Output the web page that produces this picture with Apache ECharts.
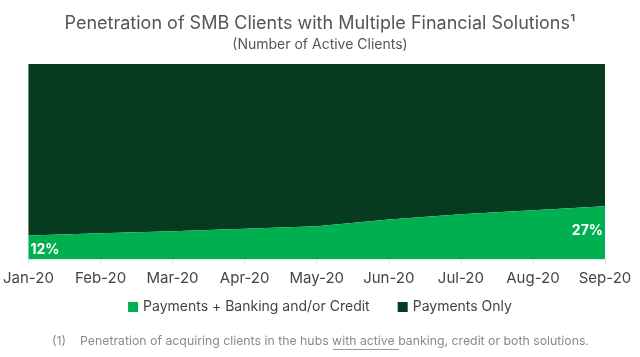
<!DOCTYPE html>
<html>
<head>
<meta charset="utf-8">
<script src="https://cdn.jsdelivr.net/npm/echarts@6/dist/echarts.min.js"></script>
<style>
html,body{margin:0;padding:0;background:#fff;}
#c{width:640px;height:357px;}
</style>
</head>
<body>
<div id="c"></div>
<script>
const categories = ['Jan-20','Feb-20','Mar-20','Apr-20','May-20','Jun-20','Jul-20','Aug-20','Sep-20'];
const multiSolution = [12, 13.2, 14.2, 15.5, 16.8, 20.3, 23, 25, 27];
const paymentsOnly = [88, 86.8, 85.8, 84.5, 83.2, 79.7, 77, 75, 73];
const seriesNames = ['Payments + Banking and/or Credit', 'Payments Only'];

const GREEN = '#00B050';
const DARK = '#063B1F';
const FONT = 'Inter, "Noto Sans", sans-serif';
const FN = '12.3px ' + FONT;

const chart = echarts.init(document.getElementById('c'), null, {renderer:'canvas'});

const greenData = multiSolution.map((v, i) => {
  if (i === 0) {
    return {value: v, label: {show: true, position: 'bottom', align: 'left', offset: [2, 2]}};
  }
  if (i === multiSolution.length - 1) {
    return {value: v, label: {show: true, position: 'bottom', align: 'right', offset: [-2, 12]}};
  }
  return v;
});

chart.setOption({
  animation: false,
  textStyle: {fontFamily: FONT},
  title: {
    text: 'Penetration of SMB Clients with Multiple Financial Solutions\u00B9',
    subtext: '(Number of Active Clients)',
    left: 'center',
    top: 10,
    itemGap: 5,
    textStyle: {fontFamily: FONT, fontSize: 18, fontWeight: 'normal', color: '#555'},
    subtextStyle: {fontFamily: FONT, fontSize: 14, color: '#555'}
  },
  legend: {
    data: seriesNames.map(n => ({name: n, icon: 'rect'})),
    bottom: 38,
    left: 'center',
    itemWidth: 10,
    itemHeight: 10,
    itemGap: 28,
    textStyle: {fontFamily: FONT, fontSize: 14, color: '#444'}
  },
  grid: {left: 28, right: 35, top: 64, bottom: 98},
  xAxis: {
    type: 'category',
    data: categories,
    boundaryGap: false,
    axisLine: {show: true, lineStyle: {color: '#e6e6e6'}},
    axisTick: {show: true, alignWithLabel: true, length: 4, lineStyle: {color: '#ddd'}},
    axisLabel: {fontFamily: FONT, fontSize: 15, color: '#444', margin: 12}
  },
  yAxis: {type: 'value', min: 0, max: 100, show: false},
  series: [
    {
      name: seriesNames[0],
      type: 'line',
      stack: 'total',
      data: greenData,
      symbol: 'circle',
      symbolSize: 0.1,
      showSymbol: true,
      itemStyle: {color: GREEN},
      lineStyle: {width: 0},
      areaStyle: {color: GREEN, opacity: 1},
      label: {show: false, formatter: '{c}%', color: '#fff', fontSize: 14, fontWeight: 'bold', fontFamily: FONT},
      z: 3
    },
    {
      name: seriesNames[1],
      type: 'line',
      stack: 'total',
      data: paymentsOnly,
      symbol: 'none',
      itemStyle: {color: DARK},
      lineStyle: {width: 0},
      areaStyle: {color: DARK, opacity: 1},
      z: 2
    }
  ],
  graphic: [
    {
      type: 'text',
      left: 52,
      top: 335,
      style: {text: '(1)', font: FN, fill: '#8a8a8a'}
    },
    {
      type: 'text',
      left: 80,
      top: 335,
      style: {
        text: 'Penetration of acquiring clients in the hubs with active banking, credit or both solutions.',
        font: FN,
        fill: '#8a8a8a'
      }
    },
    {
      type: 'line',
      shape: {x1: 333, y1: 349.5, x2: 399, y2: 349.5},
      style: {stroke: '#9a9a9a', lineWidth: 1}
    }
  ]
});
</script>
</body>
</html>
